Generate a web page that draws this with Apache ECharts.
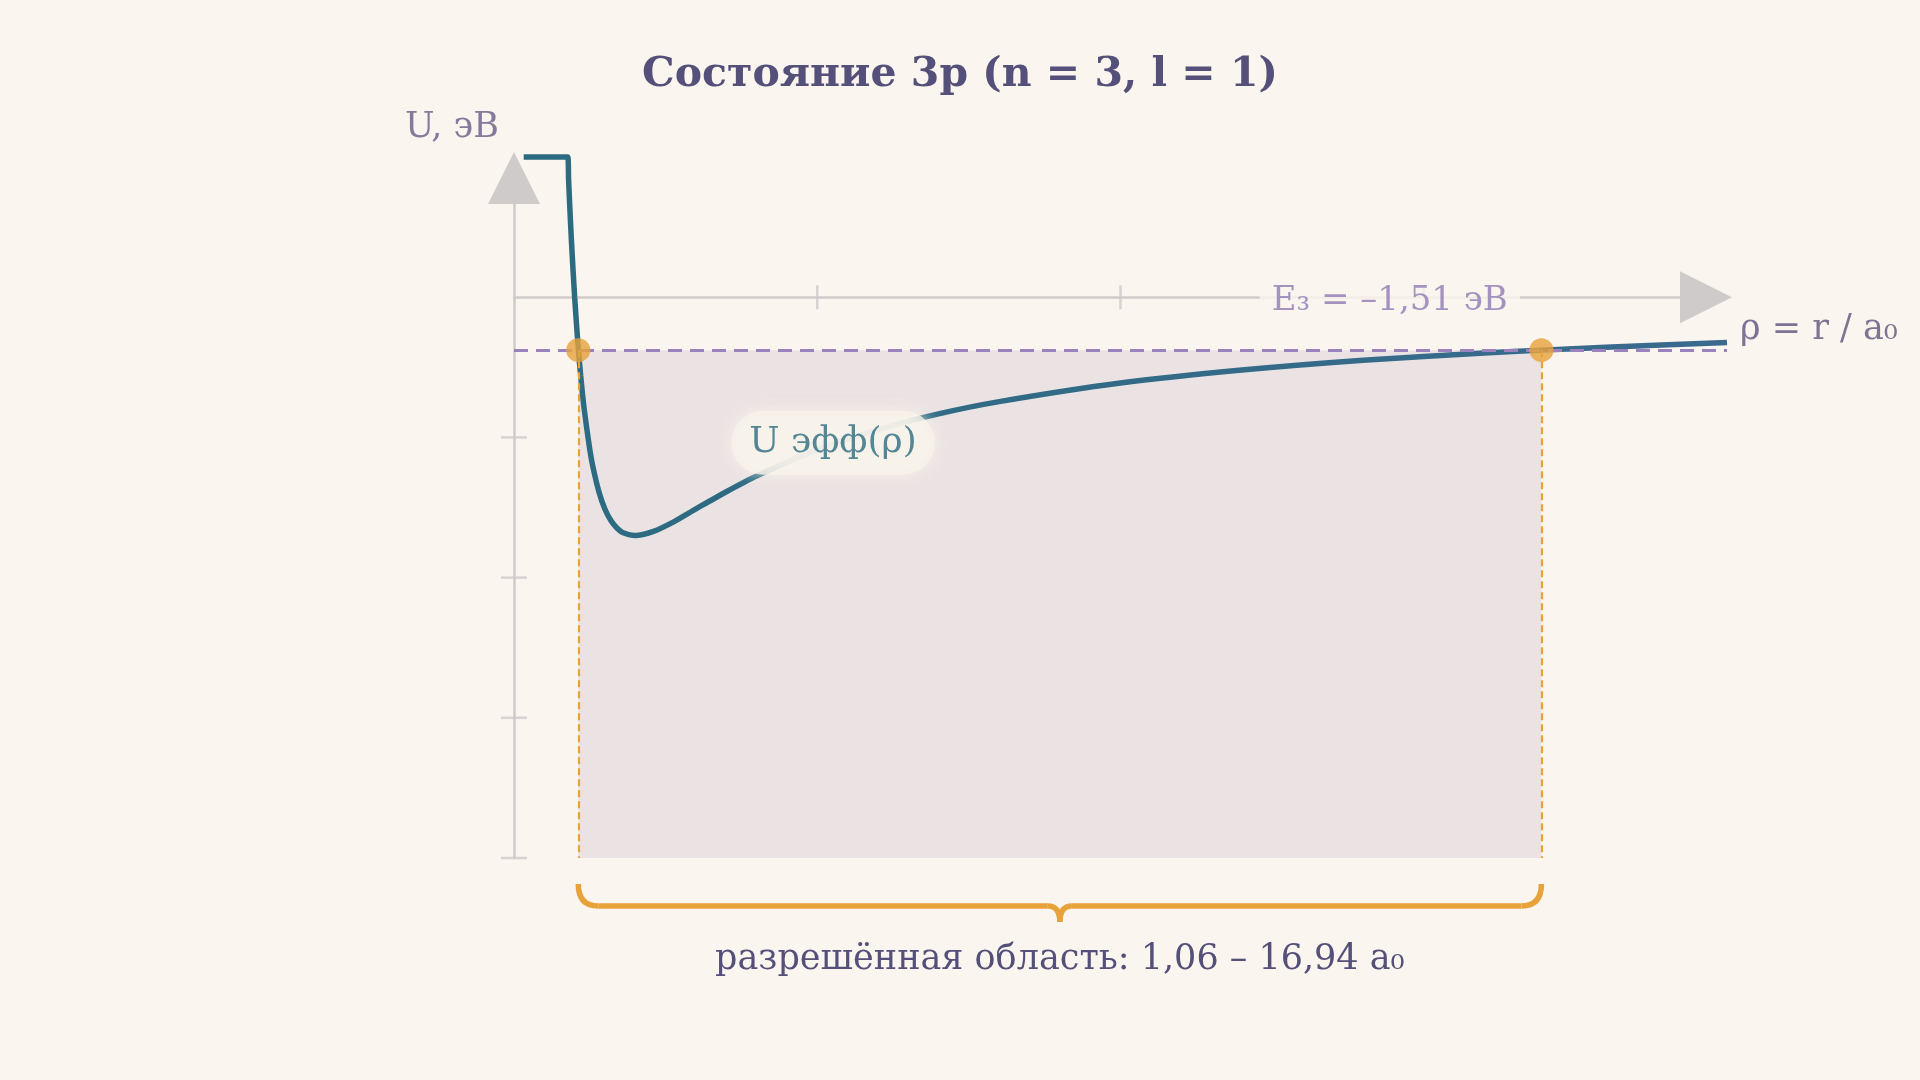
<!DOCTYPE html>
<html><head><meta charset="utf-8">
<script src="https://cdn.jsdelivr.net/npm/echarts@6/dist/echarts.min.js"></script>
<style>html,body{margin:0;padding:0;background:#faf5ee}#c{width:1920px;height:1080px}</style>
</head><body><div id="c"></div>
<script>
// Data
const rho = [0.16,0.885,0.9,0.92,0.95,1.0,1.06,1.1,1.15,1.25,1.3,1.4,1.5,1.6,1.7,1.8,2.0,2.3,2.6,3,3.5,4,5,6,7,8,10,12,14,16,16.94,18,20];
const uEff = [4,4,3.36,2.57,1.51,0,-1.47,-2.25,-3.09,-4.35,-4.83,-5.55,-6.05,-6.38,-6.59,-6.72,-6.8,-6.68,-6.44,-6.04,-5.55,-5.1,-4.35,-3.78,-3.33,-2.98,-2.45,-2.08,-1.80,-1.59,-1.51,-1.43,-1.29];
const energy = -1.51;
const turningPoints = [1.06, 16.94];
const xTicks = [5,10,15];
const yTicks = [-4,-8,-12,-16];
const yMin = -16, yMax = 4, xMin = 0, xMax = 20;

const SERIF = "'DejaVu Serif', 'Liberation Serif', serif";
const axisGray = '#cfcbcb';
const chart = echarts.init(document.getElementById('c'));
const baseGraphic = [
  {type: 'text', left: 405, top: 110, style: {text: 'U, эВ', fontFamily: SERIF, fontSize: 35, fill: '#857a9c'}},
  {type: 'text', left: 1740, top: 312, style: {text: 'ρ = r / a₀', fontFamily: SERIF, fontSize: 35, fill: '#7d7393'}}
];
const option = {
  backgroundColor: '#faf5ee',
  title: {text: 'Состояние 3p (n = 3, l = 1)', left: 'center', top: 50,
    textStyle: {fontFamily: SERIF, fontWeight: 'bold', fontSize: 41, color: '#55507a'}},
  grid: {left: 514, right: 193, top: 157, bottom: 222},
  xAxis: {type: 'value', min: xMin, max: xMax, interval: 5,
    axisLine: {onZero: true, lineStyle: {color: axisGray, width: 2.5}, symbol: ['none','triangle'], symbolSize: [52, 52], symbolOffset: [0, -21]},
    axisTick: {show: false}, axisLabel: {show: false}, splitLine: {show: false}},
  yAxis: {type: 'value', min: yMin, max: yMax, interval: 4,
    axisLine: {show: true, onZero: false, lineStyle: {color: axisGray, width: 2.5}, symbol: ['none','triangle'], symbolSize: [52, 52], symbolOffset: [0, -21]},
    axisTick: {show: false}, axisLabel: {show: false}, splitLine: {show: false}},
  series: [
    {type: 'line', data: [], z: 1,
      markArea: {silent: true, itemStyle: {color: '#ebe3e3'},
        data: [[{coord: [turningPoints[0], energy]}, {coord: [turningPoints[1], yMin]}]]},
      markLine: {silent: true, symbol: 'none', label: {show: false},
        data: [
          [{coord: [xMin, energy], lineStyle: {color: '#9a82bd', type: [14, 8], width: 3}}, {coord: [xMax, energy]}],
          [{coord: [turningPoints[0], energy], lineStyle: {color: '#e8a23a', type: [7, 4], width: 2.2}}, {coord: [turningPoints[0], yMin]}],
          [{coord: [turningPoints[1], energy], lineStyle: {color: '#e8a23a', type: [7, 4], width: 2.2}}, {coord: [turningPoints[1], yMin]}]
        ]}},
    {type: 'scatter', symbol: 'rect', symbolSize: [2.5, 24], z: 2, silent: true,
      itemStyle: {color: axisGray}, data: xTicks.map(v => [v, 0])},
    {type: 'scatter', symbol: 'rect', symbolSize: [26, 2.5], z: 2, silent: true,
      itemStyle: {color: axisGray}, data: yTicks.map(v => [0, v])},
    {type: 'scatter', symbolSize: 0, z: 5, silent: true, data: [[14.44, -0.12]],
      label: {show: true, position: 'inside', formatter: 'E₃ = –1,51 эВ', fontFamily: SERIF, fontSize: 34,
        color: '#8f7ab5', backgroundColor: '#faf5ee', padding: [4, 12]}},
    {type: 'line', data: rho.map((r, i) => [r, uEff[i]]), smooth: 0.25, showSymbol: false, clip: false, z: 4,
      lineStyle: {width: 5.5, color: new echarts.graphic.LinearGradient(0, 0, 1, 0, [{offset: 0, color: '#2b6b80'}, {offset: 1, color: '#3a6a8e'}])}},
    {type: 'scatter', symbolSize: 0, z: 6, silent: true, data: [[5.26, -4.15]],
      label: {show: true, position: 'inside', formatter: 'U эфф(ρ)', fontFamily: SERIF, fontSize: 36, color: '#2a6a80',
        backgroundColor: '#f7f3ea', padding: [14, 18], borderRadius: 34, shadowColor: 'rgba(250,245,238,0.95)', shadowBlur: 16}},
    {type: 'scatter', symbolSize: 24, z: 7, silent: true, itemStyle: {color: '#e8a23a'},
      data: turningPoints.map(v => [v, energy])}
  ],
  graphic: baseGraphic
};
chart.setOption(option);
const p1 = chart.convertToPixel({gridIndex: 0}, [turningPoints[0], yMin]);
const p2 = chart.convertToPixel({gridIndex: 0}, [turningPoints[1], yMin]);
const x1 = p1[0], x2 = p2[0], xm = (x1 + x2) / 2, y0 = p1[1] + 26, y1 = p1[1] + 48, y2 = p1[1] + 64;
const bs = {fill: 'none', stroke: '#e8a23a', lineWidth: 5.5};
chart.setOption({graphic: baseGraphic.concat([
  {type: 'bezierCurve', shape: {x1: x1, y1: y0, x2: x1 + 20, y2: y1, cpx1: x1, cpy1: y1}, style: bs},
  {type: 'line', shape: {x1: x1 + 20, y1: y1, x2: xm - 12, y2: y1}, style: bs},
  {type: 'bezierCurve', shape: {x1: xm - 12, y1: y1, x2: xm, y2: y2, cpx1: xm, cpy1: y1}, style: bs},
  {type: 'bezierCurve', shape: {x1: xm, y1: y2, x2: xm + 12, y2: y1, cpx1: xm, cpy1: y1}, style: bs},
  {type: 'line', shape: {x1: xm + 12, y1: y1, x2: x2 - 20, y2: y1}, style: bs},
  {type: 'bezierCurve', shape: {x1: x2 - 20, y1: y1, x2: x2, y2: y0, cpx1: x2, cpy1: y1}, style: bs},
  {type: 'text', x: xm, y: p1[1] + 102, style: {text: 'разрешённая область: 1,06 – 16,94 a₀', fontFamily: SERIF, fontSize: 35,
    fill: '#55507a', align: 'center', verticalAlign: 'middle'}}
])});
</script></body></html>
